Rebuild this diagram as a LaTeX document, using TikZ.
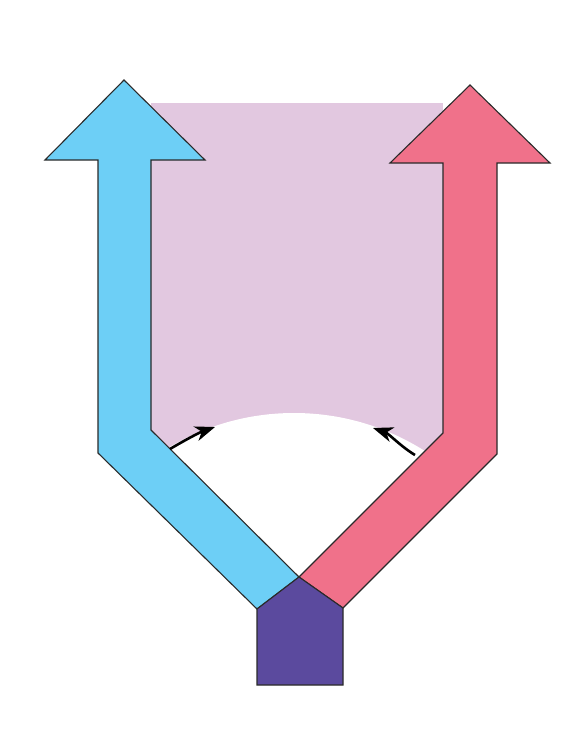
\documentclass[tikz,border=0pt]{standalone}
\usetikzlibrary{arrows.meta}
\definecolor{pinkbg}{HTML}{E2C8E0}
\definecolor{bluearr}{HTML}{6DCFF6}
\definecolor{redarr}{HTML}{F0718A}
\definecolor{purp}{HTML}{5B4A9E}
\definecolor{edge}{HTML}{2A2A2A}
\tikzset{
  shape outline/.style={draw=edge, line width=1.1pt, line join=miter},
  turn arrow/.style={draw=black, line width=2.6pt, -{Stealth[length=20pt,width=15pt,inset=6pt]}}
}
\begin{document}
\begin{tikzpicture}[x=1pt,y=-1pt]
\useasboundingbox (0,0) rectangle (572,755);
% pink field
\fill[pinkbg] (151,103) rectangle (443,470);
% white arc region
\fill[white] (294,657) circle[radius=244];
% blue arrow
\filldraw[shape outline, fill=bluearr]
  (124,80) -- (205,160) -- (151,160) -- (151,430) -- (299,577)
  -- (257,609) -- (98,453) -- (98,160) -- (45,160) -- cycle;
% red arrow
\filldraw[shape outline, fill=redarr]
  (470,85) -- (550,163) -- (497,163) -- (497,454) -- (343,608)
  -- (299,577) -- (443,433) -- (443,163) -- (390,163) -- cycle;
% purple pentagon
\filldraw[shape outline, fill=purp]
  (299,577) -- (343,608) -- (343,685) -- (257,685) -- (257,609) -- cycle;
% curved arrows
\coordinate (la) at (170,449);
\coordinate (lb) at (215,427);
\coordinate (ra) at (415,455);
\coordinate (rb) at (373,428);
\draw[turn arrow] (la) .. controls (184,440.6) and (199.6,432.4) .. (lb);
\draw[turn arrow] (ra) .. controls (401,446.6) and (388.4,433.3) .. (rb);
\end{tikzpicture}
\end{document}
